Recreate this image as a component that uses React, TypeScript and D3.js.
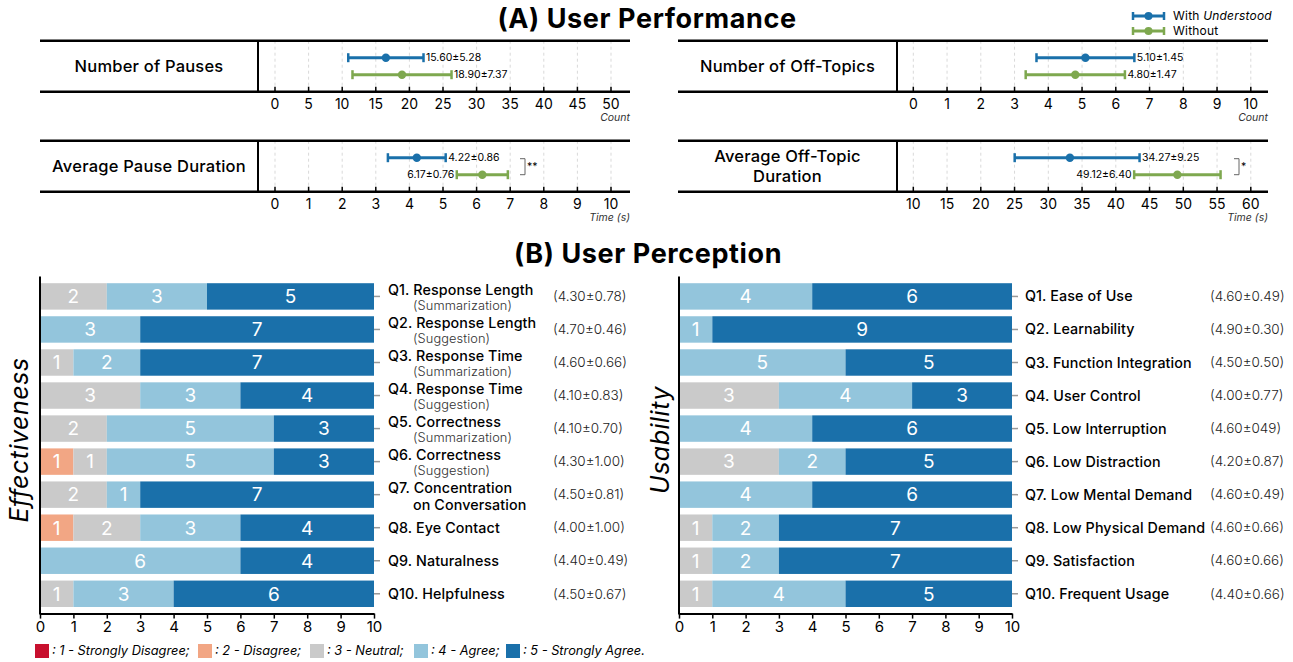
import { useEffect, useRef } from "react";
import * as d3 from "d3";

// ---- (A) user performance ----
const perfMetrics = ["Number of Pauses", "Number of Off-Topics", "Average Pause Duration", "Average Off-Topic Duration"];
const perfDomains = [[0, 50], [0, 10], [0, 10], [10, 60]];
const perfTickStep = [5, 1, 1, 5];
const perfUnits = ["Count", "Count", "Time (s)", "Time (s)"];
const withLow = [10.9, 3.65, 3.36, 25.02];
const withMean = [16.5, 5.1, 4.22, 33.2];
const withHigh = [22.1, 6.55, 5.08, 43.52];
const withLabels = ["15.60±5.28", "5.10±1.45", "4.22±0.86", "34.27±9.25"];
const withoutLow = [11.53, 3.33, 5.41, 42.72];
const withoutMean = [18.9, 4.8, 6.17, 49.12];
const withoutHigh = [26.27, 6.27, 6.93, 55.52];
const withoutLabels = ["18.90±7.37", "4.80±1.47", "6.17±0.76", "49.12±6.40"];
const withoutLabelSide = ["right", "right", "left", "left"];
const significance = ["", "", "**", "*"];

// ---- (B) user perception ----
const levels = ["1 - Strongly Disagree;", "2 - Disagree;", "3 - Neutral;", "4 - Agree;", "5 - Strongly Agree."];
const levelColors = ["#c8102e", "#f2a684", "#cacaca", "#93c5dc", "#1a70aa"];

const effQuestions = ["Q1. Response Length", "Q2. Response Length", "Q3. Response Time", "Q4. Response Time", "Q5. Correctness", "Q6. Correctness", "Q7. Concentration", "Q8. Eye Contact", "Q9. Naturalness", "Q10. Helpfulness"];
const effSubLines = ["(Summarization)", "(Suggestion)", "(Summarization)", "(Suggestion)", "(Summarization)", "(Suggestion)", "on Conversation", "", "", ""];
const effStats = ["(4.30±0.78)", "(4.70±0.46)", "(4.60±0.66)", "(4.10±0.83)", "(4.10±0.70)", "(4.30±1.00)", "(4.50±0.81)", "(4.00±1.00)", "(4.40±0.49)", "(4.50±0.67)"];
const effStronglyDisagree = [0, 0, 0, 0, 0, 0, 0, 0, 0, 0];
const effDisagree = [0, 0, 0, 0, 0, 1, 0, 1, 0, 0];
const effNeutral = [2, 0, 1, 3, 2, 1, 2, 2, 0, 1];
const effAgree = [3, 3, 2, 3, 5, 5, 1, 3, 6, 3];
const effStronglyAgree = [5, 7, 7, 4, 3, 3, 7, 4, 4, 6];

const useQuestions = ["Q1. Ease of Use", "Q2. Learnability", "Q3. Function Integration", "Q4. User Control", "Q5. Low Interruption", "Q6. Low Distraction", "Q7. Low Mental Demand", "Q8. Low Physical Demand", "Q9. Satisfaction", "Q10. Frequent Usage"];
const useStats = ["(4.60±0.49)", "(4.90±0.30)", "(4.50±0.50)", "(4.00±0.77)", "(4.60±049)", "(4.20±0.87)", "(4.60±0.49)", "(4.60±0.66)", "(4.60±0.66)", "(4.40±0.66)"];
const useStronglyDisagree = [0, 0, 0, 0, 0, 0, 0, 0, 0, 0];
const useDisagree = [0, 0, 0, 0, 0, 0, 0, 0, 0, 0];
const useNeutral = [0, 0, 0, 3, 0, 3, 0, 1, 1, 1];
const useAgree = [4, 1, 5, 4, 4, 2, 4, 2, 2, 4];
const useStronglyAgree = [6, 9, 5, 3, 6, 5, 6, 7, 7, 5];

const FONT = "Inter, 'Open Sans', sans-serif";
const BLUE = "#1a70aa";
const GREEN = "#7ea84f";

export default function App() {
  const ref = useRef<SVGSVGElement>(null);

  useEffect(() => {
    const svg = d3.select(ref.current);
    svg.selectAll("*").remove();
    svg.style("font-family", FONT);

    // titles
    svg.append("text").attr("x", 647).attr("y", 28).attr("text-anchor", "middle")
      .style("font-size", "27px").style("font-weight", "700").style("letter-spacing", "0.6px").text("(A) User Performance");
    svg.append("text").attr("x", 648).attr("y", 263).attr("text-anchor", "middle")
      .style("font-size", "27px").style("font-weight", "700").style("letter-spacing", "0.6px").text("(B) User Perception");

    // legend top-right
    [["With ", "Understood", BLUE, 16], ["Without", "", GREEN, 31]].forEach(([a, b, c, y]) => {
      const g = svg.append("g").attr("transform", "translate(0," + y + ")");
      g.append("line").attr("x1", 1132).attr("x2", 1165).attr("stroke", c).attr("stroke-width", 3);
      g.append("line").attr("x1", 1133).attr("x2", 1133).attr("y1", -4).attr("y2", 4).attr("stroke", c).attr("stroke-width", 2.5);
      g.append("line").attr("x1", 1164).attr("x2", 1164).attr("y1", -4).attr("y2", 4).attr("stroke", c).attr("stroke-width", 2.5);
      g.append("circle").attr("cx", 1148.5).attr("r", 4).attr("fill", c as string);
      const t = g.append("text").attr("x", 1173).attr("dy", "0.35em").style("font-size", "12px").style("letter-spacing", "0.2px");
      t.append("tspan").text(a as string);
      if (b) t.append("tspan").style("font-style", "italic").text(b as string);
    });

    // performance panels
    const panels = [
      { x0: 40, div: 258, x1: 630, r0: 275, r1: 611, top: 40.7 },
      { x0: 678, div: 897, x1: 1268, r0: 913.3, r1: 1250.8, top: 40.7 },
      { x0: 40, div: 258, x1: 630, r0: 275, r1: 611, top: 140.7 },
      { x0: 678, div: 897, x1: 1268, r0: 913.3, r1: 1250.8, top: 140.7 },
    ];
    const ph = 51;
    panels.forEach((p, i) => {
      const g = svg.append("g");
      const x = d3.scaleLinear().domain(perfDomains[i]).range([p.r0, p.r1]);
      const ticks = d3.range(perfDomains[i][0], perfDomains[i][1] + 0.001, perfTickStep[i]);
      const bottom = p.top + ph;
      // grid
      g.selectAll(".grid").data(ticks).enter().append("line")
        .attr("x1", (d) => x(d)).attr("x2", (d) => x(d))
        .attr("y1", p.top).attr("y2", bottom)
        .attr("stroke", "#d9d9d9").attr("stroke-width", 1).attr("stroke-dasharray", "3,3");
      // ticks + labels
      g.selectAll(".tk").data(ticks).enter().append("line")
        .attr("x1", (d) => x(d)).attr("x2", (d) => x(d))
        .attr("y1", bottom - 5).attr("y2", bottom)
        .attr("stroke", "#000").attr("stroke-width", 1.5);
      g.selectAll(".tl").data(ticks).enter().append("text")
        .attr("x", (d) => x(d)).attr("y", bottom + 12).attr("dy", "0.35em")
        .attr("text-anchor", "middle").style("font-size", "14px").text((d) => d);
      g.append("text").attr("x", p.x1).attr("y", bottom + 26).attr("dy", "0.35em")
        .attr("text-anchor", "end").style("font-size", "10.5px").style("font-style", "italic")
        .attr("fill", "#333").text(perfUnits[i]);
      // frame
      g.append("line").attr("x1", p.x0).attr("x2", p.x1).attr("y1", p.top).attr("y2", p.top).attr("stroke", "#000").attr("stroke-width", 2.5);
      g.append("line").attr("x1", p.x0).attr("x2", p.x1).attr("y1", bottom).attr("y2", bottom).attr("stroke", "#000").attr("stroke-width", 2.5);
      g.append("line").attr("x1", p.div).attr("x2", p.div).attr("y1", p.top).attr("y2", bottom).attr("stroke", "#000").attr("stroke-width", 2);
      // metric label
      const words = perfMetrics[i] === "Average Off-Topic Duration" ? ["Average Off-Topic", "Duration"] : [perfMetrics[i]];
      const cx = (p.x0 + p.div) / 2;
      words.forEach((w, k) => {
        const yy = p.top + ph / 2 + (words.length === 1 ? 0 : (k === 0 ? -9.5 : 10));
        g.append("text").attr("x", cx).attr("y", yy).attr("dy", "0.35em").attr("text-anchor", "middle")
          .style("font-size", "16.5px").style("font-weight", "500").style("letter-spacing", "0.2px").text(w);
      });
      // error bars
      const rows = [
        { lo: withLow[i], m: withMean[i], hi: withHigh[i], lab: withLabels[i], c: BLUE, y: p.top + 17, side: "right" },
        { lo: withoutLow[i], m: withoutMean[i], hi: withoutHigh[i], lab: withoutLabels[i], c: GREEN, y: p.top + 34, side: withoutLabelSide[i] },
      ];
      rows.forEach((r) => {
        g.append("line").attr("x1", x(r.lo)).attr("x2", x(r.hi)).attr("y1", r.y).attr("y2", r.y).attr("stroke", r.c).attr("stroke-width", 3);
        [r.lo, r.hi].forEach((v) => {
          g.append("line").attr("x1", x(v)).attr("x2", x(v)).attr("y1", r.y - 4.5).attr("y2", r.y + 4.5).attr("stroke", r.c).attr("stroke-width", 2.5);
        });
        g.append("circle").attr("cx", x(r.m)).attr("cy", r.y).attr("r", 4.2).attr("fill", r.c);
        g.append("text").attr("x", r.side === "right" ? x(r.hi) + 2.5 : x(r.lo) - 2.5).attr("y", r.y).attr("dy", "0.35em")
          .attr("text-anchor", r.side === "right" ? "start" : "end").style("font-size", "10.5px").text(r.lab);
      });
      if (significance[i]) {
        const bx = i === 2 ? 520 : 1234;
        g.append("path").attr("d", `M${bx},${p.top + 18}H${bx + 5}V${p.top + 34}H${bx}`)
          .attr("fill", "none").attr("stroke", "#666").attr("stroke-width", 1);
        g.append("text").attr("x", bx + 7).attr("y", p.top + 26).attr("dy", "0.35em").style("font-size", "10.5px").text(significance[i]);
      }
    });

    // perception stacked bars
    const charts = [
      { x0: 40, x1: 374, labelX: 388, subX: 413, statX: 553, q: effQuestions, subs: effSubLines, stats: effStats,
        vals: [effStronglyDisagree, effDisagree, effNeutral, effAgree, effStronglyAgree], title: "Effectiveness", titleX: 19 },
      { x0: 679, x1: 1012, labelX: 1025, subX: 1050, statX: 1210, q: useQuestions, subs: useQuestions.map(() => ""), stats: useStats,
        vals: [useStronglyDisagree, useDisagree, useNeutral, useAgree, useStronglyAgree], title: "Usability", titleX: 660 },
    ];
    charts.forEach((c) => {
      const g = svg.append("g");
      const x = d3.scaleLinear().domain([0, 10]).range([c.x0, c.x1]);
      const y = d3.scaleBand().domain(c.q).range([276.6, 613.6]).padding(0.2);
      c.q.forEach((q, qi) => {
        let acc = 0;
        c.vals.forEach((arr, li) => {
          const v = arr[qi];
          if (!v) return;
          g.append("rect").attr("x", x(acc)).attr("y", y(q)!).attr("width", x(acc + v) - x(acc))
            .attr("height", y.bandwidth()).attr("fill", levelColors[li]);
          g.append("text").attr("x", x(acc + v / 2)).attr("y", y(q)! + y.bandwidth() / 2).attr("dy", "0.36em")
            .attr("text-anchor", "middle").attr("fill", "#fff").style("font-size", "19px").text(v);
          acc += v;
        });
        const cy = y(q)! + y.bandwidth() / 2;
        g.append("line").attr("x1", c.x1).attr("x2", c.x1 + 6).attr("y1", cy).attr("y2", cy).attr("stroke", "#999").attr("stroke-width", 1.5);
        const sub = c.subs[qi];
        const isSub = sub.startsWith("(");
        g.append("text").attr("x", c.labelX).attr("y", sub ? cy - 6.5 : cy).attr("dy", "0.35em")
          .style("font-size", "14.3px").style("font-weight", "500").style("letter-spacing", "0.1px").text(q);
        if (sub) {
          g.append("text").attr("x", c.subX).attr("y", isSub ? cy + 9 : cy + 10).attr("dy", "0.35em")
            .style("font-size", isSub ? "12.8px" : "14.3px").style("font-weight", isSub ? "300" : "500")
            .style("letter-spacing", "0.1px")
            .attr("fill", isSub ? "#333" : "#000").text(sub);
        }
        g.append("text").attr("x", c.statX).attr("y", cy).attr("dy", "0.35em")
          .style("font-size", "13.5px").style("font-weight", "300").attr("fill", "#222").text(c.stats[qi]);
      });
      const ax = g.append("g").attr("transform", "translate(0,613.6)")
        .call(d3.axisBottom(x).ticks(10).tickSize(5).tickSizeOuter(0));
      ax.select(".domain").attr("stroke-width", 2);
      ax.selectAll(".tick line").attr("stroke-width", 1.5);
      ax.selectAll("text").style("font-size", "15px").style("font-family", FONT).attr("fill", "#000");
      g.append("line").attr("x1", c.x0).attr("x2", c.x0).attr("y1", 276.6).attr("y2", 614.6).attr("stroke", "#000").attr("stroke-width", 2);
      g.append("text").attr("transform", `translate(${c.titleX},440)rotate(-90)`).attr("text-anchor", "middle")
        .attr("dy", "0.35em").style("font-size", "25px").style("font-style", "italic").style("letter-spacing", "0.5px").text(c.title);
    });

    // level legend
    const legendX = [35, 198, 310, 414, 506];
    levels.forEach((l, i) => {
      svg.append("rect").attr("x", legendX[i]).attr("y", 644).attr("width", 14).attr("height", 14).attr("fill", levelColors[i]);
      svg.append("text").attr("x", legendX[i] + 17).attr("y", 651).attr("dy", "0.35em")
        .style("font-size", "12.8px").style("font-style", "italic").text(":  " + l);
    });
  }, []);

  return <svg ref={ref} width={1293} height={662} style={{ position: "absolute", left: 0, top: 0, background: "#fff" }}></svg>;
}
